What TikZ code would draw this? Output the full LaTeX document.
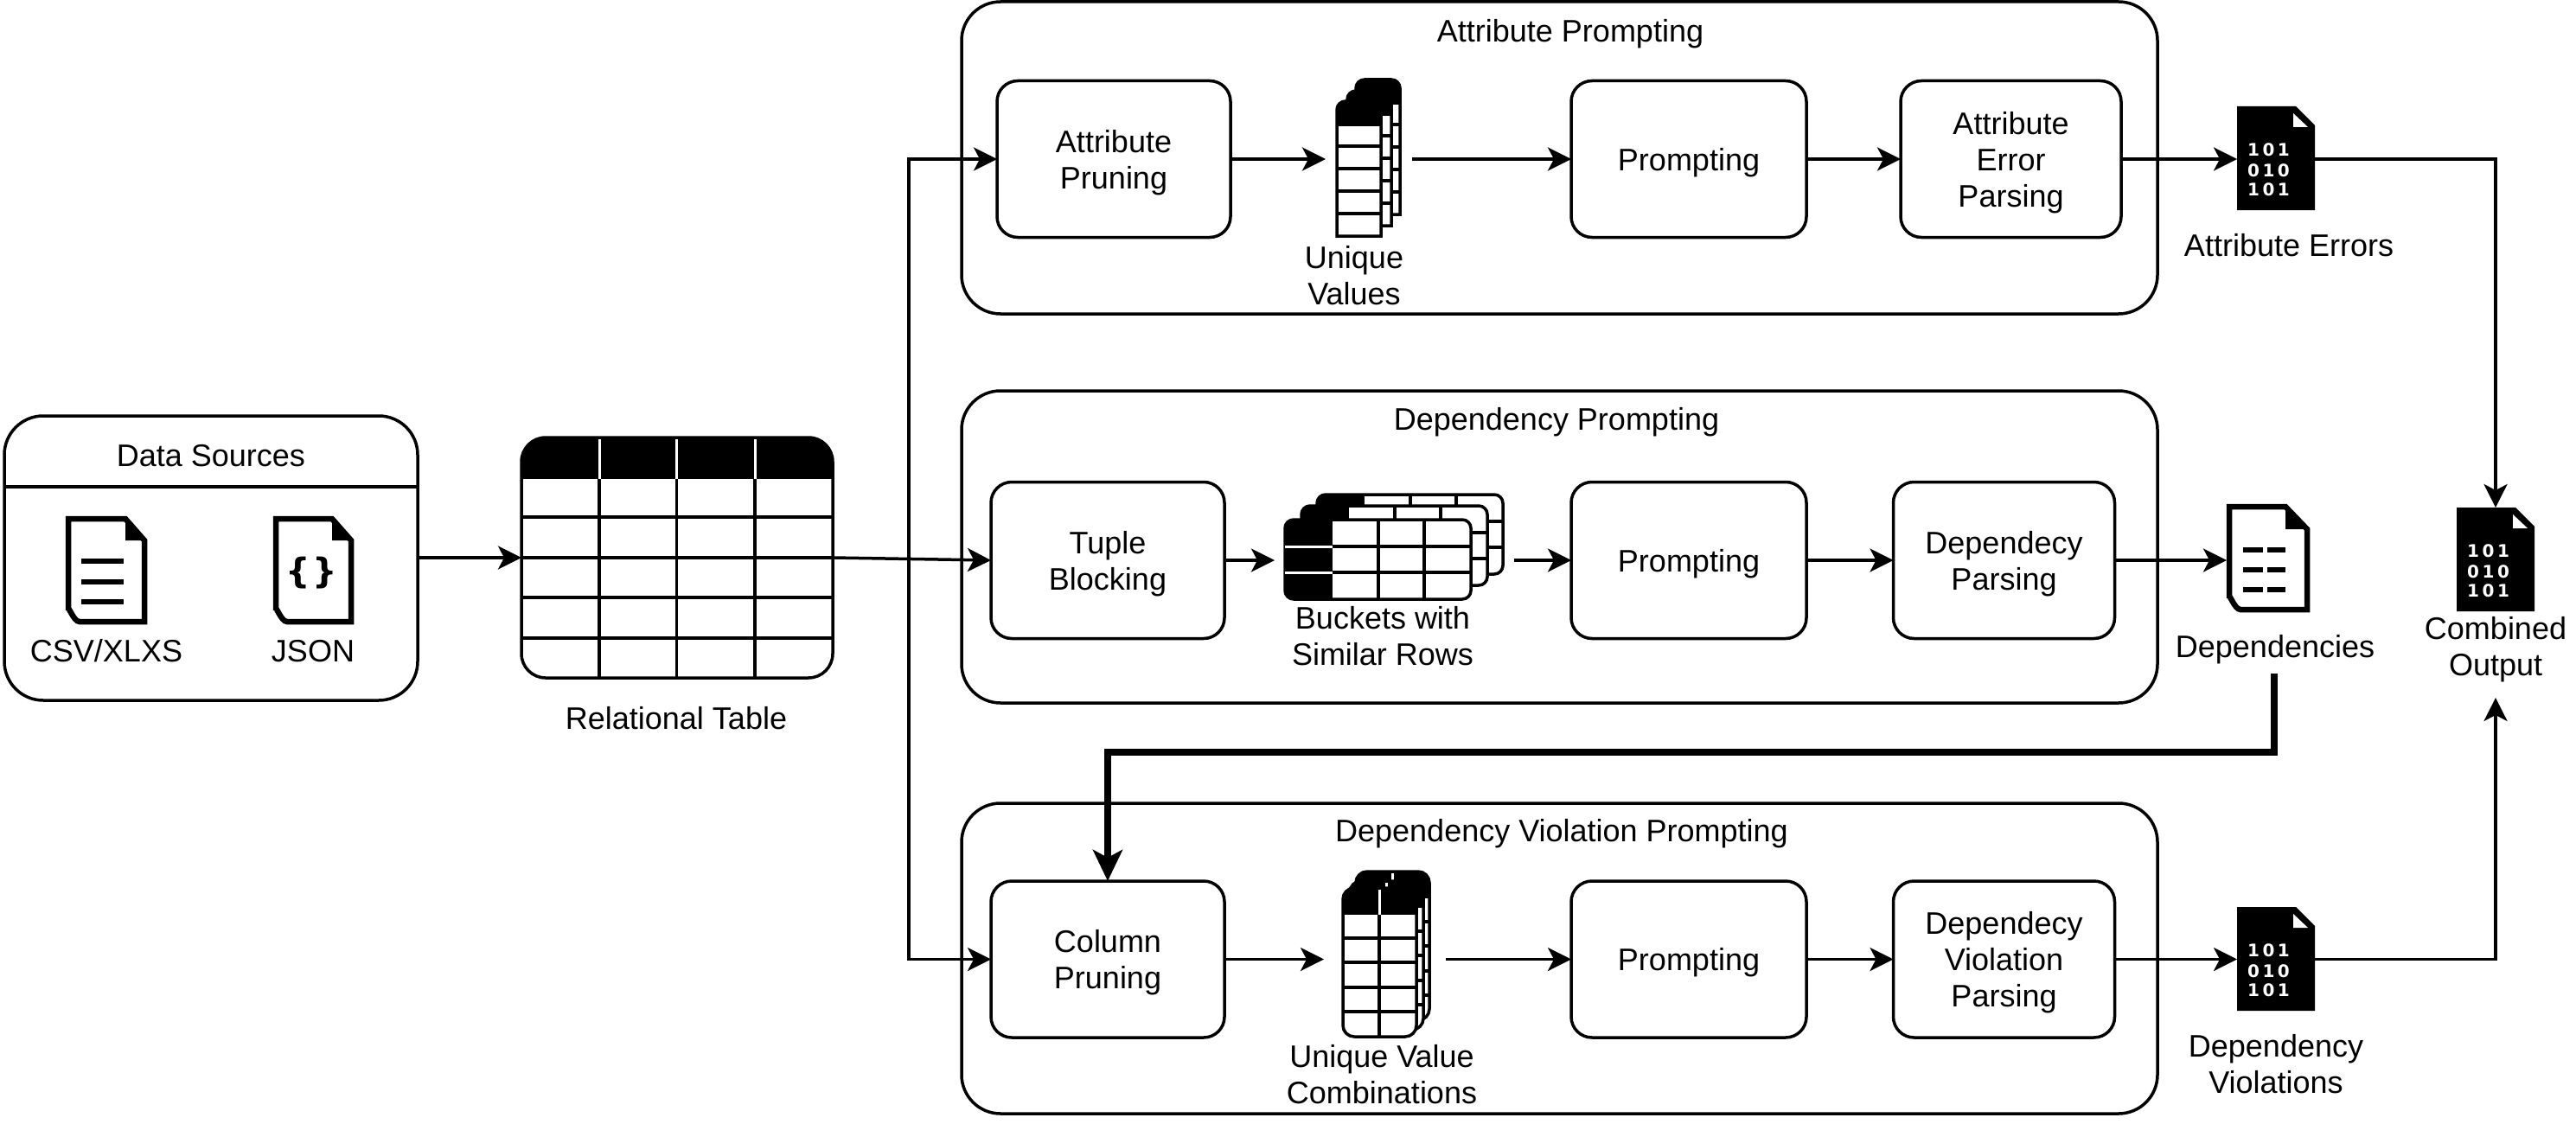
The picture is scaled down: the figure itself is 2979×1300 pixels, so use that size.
\documentclass[tikz,border=0pt]{standalone}
\usepackage{fontspec}
\setmainfont{Liberation Sans}
\newfontfamily\bitfont{DejaVu Sans}[BoldFont={DejaVu Sans Bold}]
\usetikzlibrary{arrows.meta}
\tikzset{
  x=1pt,y=-1pt,
  lbl/.style={inner sep=0pt,outer sep=0pt,align=center,font=\fontsize{36}{42}\selectfont},
  groupbox/.style={draw=black,line width=3.5pt,rounded corners=45pt,fill=white,outer sep=0pt,inner sep=0pt},
  procbox/.style={draw=black,line width=3.5pt,rounded corners=24pt,fill=white,outer sep=0pt,inner sep=0pt,align=center,text depth=0pt,font=\fontsize{36}{42}\selectfont},
  holder/.style={outer sep=0pt,inner sep=0pt},
  conn/.style={line width=3.5pt,-{Stealth[length=27pt,width=27pt,inset=7pt]}},
  heavyconn/.style={line width=7.5pt,-{Stealth[length=36pt,width=34pt,inset=9pt]}},
  tline/.style={line width=3.5pt},
  wline/.style={line width=3pt,white},
  bits/.style={inner sep=0pt,outer sep=0pt,text=white,font=\bitfont\bfseries\fontsize{20}{20}\selectfont},
}
% outlined document: x1 y1 x2 y2 foldx foldy
\newcommand\docoutline[6]{%
  \fill[black] (#5,#2) -- (#5,#6) -- (#3,#6) -- cycle;
  \draw[black,line width=6.5pt,miter limit=10]
    ({#1+3},{#2+3}) -- (#5,{#2+3}) -- ({#3-3},#6) -- ({#3-3},{#4-3})
    -- ({#1+16},{#4-3}) to[out=180,in=90] ({#1+3},{#4-16}) -- cycle;
}
% solid document with bits, given its top-left corner
\newcommand\bindoc[2]{%
  \begin{scope}[shift={(#1,#2)}]
    \fill[black] (0,0) -- (68,0) -- (90,22) -- (90,120) -- (0,120) -- cycle;
    \fill[white] (65,8) -- (65,24) -- (82,24) -- cycle;
    \node[bits] (bitA#1#2) at (36.5,50) {1\kern3.5pt0\kern3.5pt1};
    \node[bits] (bitB#1#2) at (36.5,74) {0\kern3.5pt1\kern3.5pt0};
    \node[bits] (bitC#1#2) at (36.5,96) {1\kern3.5pt0\kern3.5pt1};
  \end{scope}
}
\newcommand\valtable[2]{%
  \begin{scope}[shift={(#1,#2)}]
    \fill[white] (0,156) -- (0,10) arc[start angle=180,end angle=90,radius=10pt] -- (41,0) arc[start angle=90,end angle=0,radius=10pt] -- (51,156) -- cycle;
    \draw[tline] (0,156) -- (0,10) arc[start angle=180,end angle=90,radius=10pt] -- (41,0) arc[start angle=90,end angle=0,radius=10pt] -- (51,156) -- cycle;
    \fill[black] (0,29) -- (0,10) arc[start angle=180,end angle=90,radius=10pt] -- (41,0) arc[start angle=90,end angle=0,radius=10pt] -- (51,29) -- cycle;
    \foreach \r in {52,78,104,130} \draw[tline] (0,\r) -- (51,\r);
  \end{scope}
}
\newcommand\bucket[2]{%
  \begin{scope}[shift={(#1,#2)}]
    \draw[tline,fill=white,rounded corners=10pt] (0,0) rectangle (215,92);
    \begin{scope}
      \clip[rounded corners=10pt] (0,0) rectangle (215,92);
      \fill[black] (0,0) rectangle (55,92);
      \draw[wline] (0,31) -- (55,31);
      \draw[wline] (0,61) -- (55,61);
    \end{scope}
    \draw[tline] (55,31) -- (215,31);
    \draw[tline] (55,61) -- (215,61);
    \draw[tline] (108,0) -- (108,92);
    \draw[tline] (161,0) -- (161,92);
  \end{scope}
}
\newcommand\combo[2]{%
  \begin{scope}[shift={(#1,#2)}]
    \draw[tline,fill=white,rounded corners=13pt] (0,0) rectangle (85,172);
    \begin{scope}
      \clip[rounded corners=13pt] (0,0) rectangle (85,172);
      \fill[black] (0,0) rectangle (85,31);
    \end{scope}
    \draw[wline] (42,2) -- (42,31);
    \draw[tline] (42,31) -- (42,172);
    \foreach \r in {58,86,115,143} \draw[tline] (0,\r) -- (85,\r);
  \end{scope}
}
\begin{document}
\begin{tikzpicture}
\useasboundingbox (0,0) rectangle (2979,1300);
\fill[white] (0,0) rectangle (2979,1300);

% groups
\node[groupbox,minimum width=478pt,minimum height=329pt] (src) at (244,645.5) {};
\draw[tline] (src.west |- 0,563) -- (src.east |- 0,563);
\node[groupbox,minimum width=1383pt,minimum height=361pt] (gA) at (1803.5,182.5) {};
\node[groupbox,minimum width=1383pt,minimum height=361pt] (gD) at (1803.5,632.5) {};
\node[groupbox,minimum width=1383pt,minimum height=359pt] (gV) at (1803.5,1108.5) {};
\node[lbl] (tA) at (1816,39) {Attribute Prompting};
\node[lbl] (tD) at (1800,488) {Dependency Prompting};
\node[lbl] (tV) at (1806,964) {Dependency Violation Prompting};
\node[lbl] (tS) at (244,527) {Data Sources};

% source icons
\docoutline{76}{597}{170}{722}{145}{625}
\foreach \yy in {649,673,696} \fill[black] (94,{\yy-3}) rectangle (143,{\yy+3});
\docoutline{316}{597}{409}{722}{384}{625}
\node[holder,font=\bitfont\bfseries\fontsize{40}{40}\selectfont] (braces) at (360,663) {\{\kern2pt\}};
\node[lbl] (lcsv) at (123,753) {CSV/XLXS};
\node[lbl] (ljson) at (362,753) {JSON};

% relational table
\node[holder,minimum width=360pt,minimum height=278pt] (rel) at (783,645) {};
\begin{scope}
  \clip[rounded corners=28pt] (603,506) rectangle (963,784);
  \fill[white] (603,506) rectangle (963,784);
  \fill[black] (603,506) rectangle (963,554);
  \foreach \c in {693,782.5,873} \draw[wline] (\c,506) -- (\c,554);
\end{scope}
\draw[tline,rounded corners=28pt] (603,506) rectangle (963,784);
\foreach \r in {598,645,691,738} \draw[tline] (603,\r) -- (963,\r);
\foreach \c in {693,782.5,873} \draw[tline] (\c,554) -- (\c,784);
\node[lbl] (lrel) at (782,831) {Relational Table};

% process boxes
\node[procbox,minimum width=270pt,minimum height=181pt] (ap) at (1288,184) {Attribute\\Pruning};
\node[procbox,minimum width=272pt,minimum height=181pt] (pA) at (1953,184) {Prompting};
\node[procbox,minimum width=255pt,minimum height=181pt] (ep) at (2325.5,184) {Attribute\\Error\\Parsing};
\node[procbox,minimum width=270pt,minimum height=181pt] (tb) at (1281,648) {Tuple\\Blocking};
\node[procbox,minimum width=272pt,minimum height=181pt] (pD) at (1953,648) {Prompting};
\node[procbox,minimum width=256pt,minimum height=181pt] (dp) at (2317.5,648) {Dependecy\\Parsing};
\node[procbox,minimum width=270pt,minimum height=181pt] (cp) at (1281,1109.5) {Column\\Pruning};
\node[procbox,minimum width=272pt,minimum height=181pt] (pV) at (1953,1109.5) {Prompting};
\node[procbox,minimum width=256pt,minimum height=181pt] (vp) at (2317.5,1109.5) {Dependecy\\Violation\\Parsing};

% stacks of tables
\valtable{1568}{92}
\valtable{1558}{105}
\valtable{1546}{117}
\node[holder,minimum width=100pt,minimum height=182pt] (uv) at (1583,184) {};
\node[lbl] (luv) at (1566,319) {Unique\\Values};
\bucket{1523}{572}
\bucket{1505}{585}
\bucket{1486}{601}
\node[holder,minimum width=277pt,minimum height=100pt] (bk) at (1612.5,648) {};
\node[lbl] (lbk) at (1599,736) {Buckets with\\Similar Rows};
\combo{1568}{1008}
\combo{1561}{1019}
\combo{1553}{1027}
\node[holder,minimum width=141pt,minimum height=100pt] (uc) at (1601.5,1109.5) {};
\node[lbl] (luc) at (1598,1243) {Unique Value\\Combinations};

% result documents
\bindoc{2587}{123}
\node[holder,minimum width=90pt,minimum height=120pt] (dA) at (2632,184) {};
\node[lbl] (ldA) at (2647,284) {Attribute Errors};
\docoutline{2575}{583}{2671}{708}{2643}{612}
\foreach \yy in {636,659,682} {
  \fill[black] (2594,{\yy-3}) rectangle (2617,{\yy+3});
  \fill[black] (2622,{\yy-3}) rectangle (2643,{\yy+3});
}
\node[holder,minimum width=96pt,minimum height=125pt] (dD) at (2623,648) {};
\node[lbl] (ldD) at (2631,751) {Dependencies};
\coordinate (dDout) at (2630,779);
\bindoc{2587}{1049}
\node[holder,minimum width=90pt,minimum height=120pt] (dV) at (2632,1109.5) {};
\node[lbl] (ldV) at (2632,1231) {Dependency\\Violations};
\bindoc{2841}{587}
\node[holder,minimum width=90pt,minimum height=120pt] (dC) at (2886,647) {};
\node[lbl] (ldC) at (2886,751) {Combined\\Output};
\coordinate (cIn) at (2886,807);

% connectors
\draw[conn] (src.east |- rel.west) -- (rel.west);
\draw[conn] (rel.east) -- (tb.west);
\coordinate (bus) at (1051,647);
\draw[conn] (bus) |- (ap.west);
\draw[conn] (bus) |- (cp.west);
\draw[conn] (ap) -- (uv);
\draw[conn] (uv) -- (pA);
\draw[conn] (pA) -- (ep);
\draw[conn] (ep) -- (dA);
\draw[conn] (tb) -- (bk);
\draw[conn] (bk) -- (pD);
\draw[conn] (pD) -- (dp);
\draw[conn] (dp) -- (dD);
\draw[conn] (cp) -- (uc);
\draw[conn] (uc) -- (pV);
\draw[conn] (pV) -- (vp);
\draw[conn] (vp) -- (dV);
\draw[conn] (dA.east) -| (dC.north);
\draw[conn] (dV.east) -| (cIn);
\coordinate (thickbend) at (cp.north |- 0,870);
\draw[heavyconn] (dDout) |- (thickbend) -- (cp.north);
\end{tikzpicture}
\end{document}
